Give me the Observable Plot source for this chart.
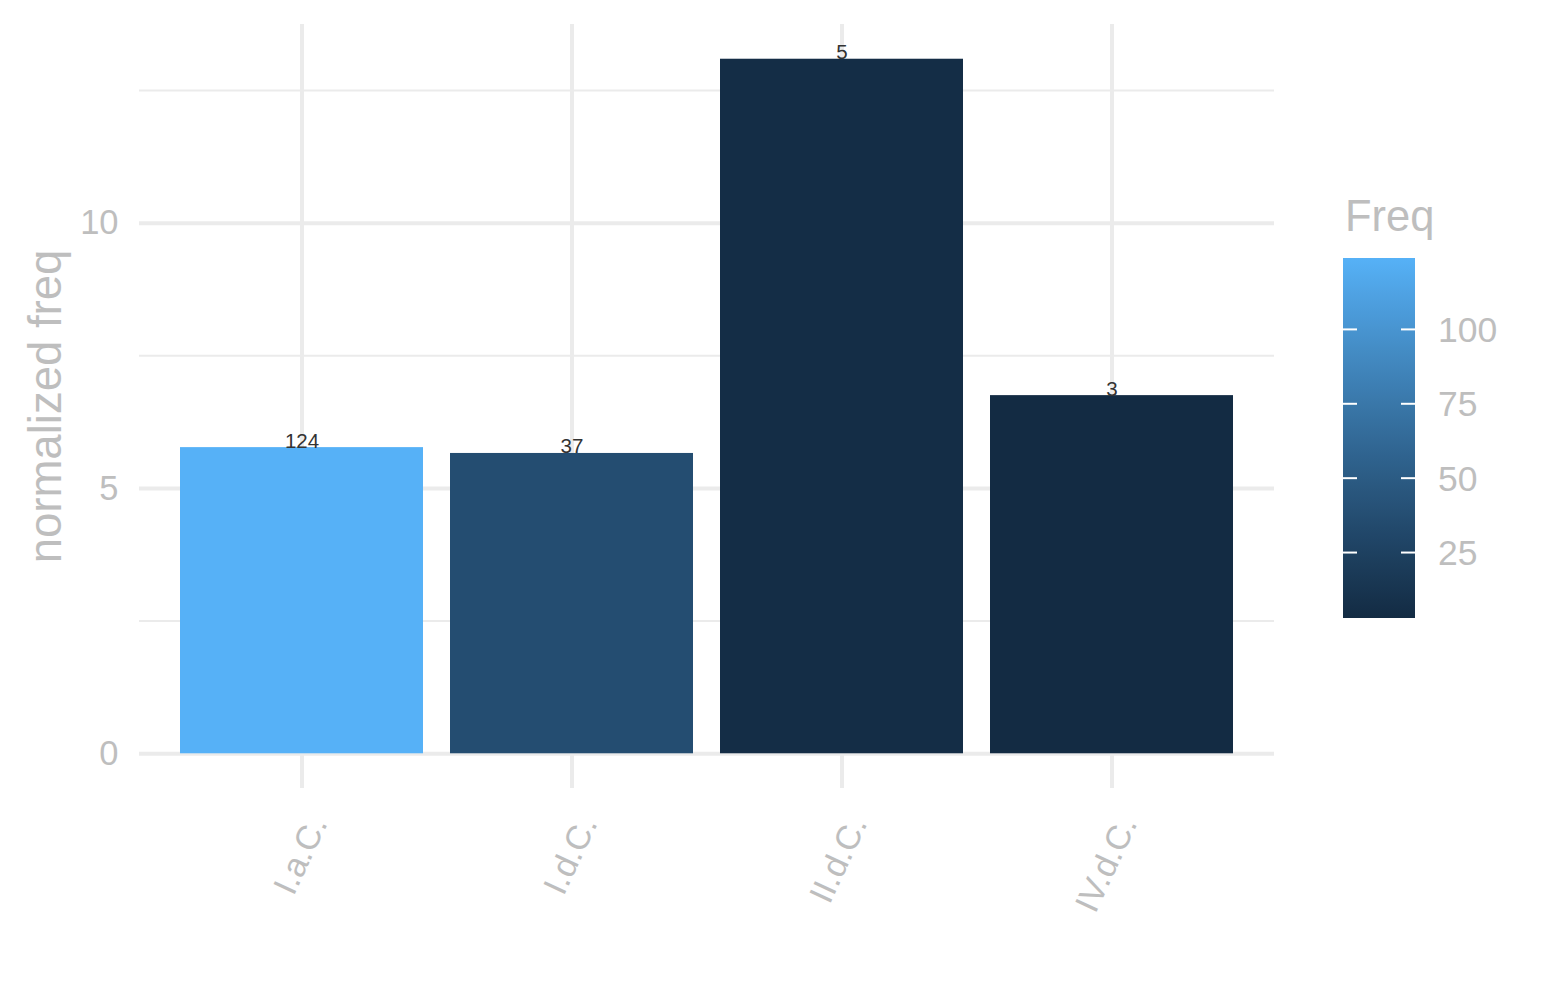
<!DOCTYPE html>
<html><head><meta charset="utf-8">
<script src="https://cdn.jsdelivr.net/npm/d3@7"></script>
<script src="https://cdn.jsdelivr.net/npm/@observablehq/plot@0.6"></script>
<style>
html,body{margin:0;padding:0;background:#fff;}
#wrap{position:relative;width:1545px;height:1000px;}
</style></head><body><div id="wrap"></div>
<script>
const categories = ["I.a.C.", "I.d.C.", "II.d.C.", "IV.d.C."];
const normFreq = [5.77, 5.66, 13.09, 6.75];
const freq = [124, 37, 5, 3];
const yTicksMajor = [0, 5, 10];
const yTicksMinor = [2.5, 7.5, 12.5];
const legendTicks = [25, 50, 75, 100];

const data = categories.map((c, i) => ({cat: c, norm: normFreq[i], freq: freq[i]}));
const maxV = d3.max(normFreq);
const grey = "#bebebe";
const gridCol = "#ebebeb";
const font = "'Liberation Sans', Arial, Helvetica, sans-serif";

const chart = Plot.plot({
  width: 1545, height: 1000,
  marginLeft: 139, marginRight: 271, marginTop: 24, marginBottom: 212,
  style: {fontFamily: font, background: "#fff"},
  x: {type: "band", domain: categories, paddingInner: 0.1, paddingOuter: 0.15, label: null},
  y: {domain: [-0.05 * maxV, 1.05 * maxV], label: null},
  color: {type: "linear", domain: d3.extent(freq), range: ["#132B43", "#56B1F7"], interpolate: "lab"},
  marks: [
    Plot.gridY(yTicksMinor, {stroke: gridCol, strokeOpacity: 1, strokeWidth: 2}),
    Plot.gridY(yTicksMajor, {stroke: gridCol, strokeOpacity: 1, strokeWidth: 4}),
    Plot.gridX(categories, {stroke: gridCol, strokeOpacity: 1, strokeWidth: 4}),
    Plot.barY(data, {x: "cat", y: "norm", fill: "freq"}),
    Plot.text(data, {x: "cat", y: "norm", text: d => String(d.freq), lineAnchor: "bottom", fontSize: 20.5, fill: "#333"}),
    Plot.axisY(yTicksMajor, {tickSize: 0, tickPadding: 21, fontSize: 34.5, color: grey, label: null, tickFormat: d3.format("d")}),
    Plot.axisX({tickSize: 0, tickPadding: 30, tickRotate: -65, fontSize: 34, color: grey, label: null, dx: 16}),
    Plot.text(["normalized freq"], {text: d => d, frameAnchor: "left", textAnchor: "middle", lineAnchor: "middle", rotate: -90, dx: -93, fontSize: 45.5, fill: grey})
  ]
});
document.getElementById("wrap").appendChild(chart);

// Legend (colour bar) built from the plot's own colour scale
const cs = chart.scale("color");
const [d0, d1] = cs.domain;
const svg = d3.select(chart);
const grad = svg.append("defs").append("linearGradient")
  .attr("id", "freqGrad").attr("x1", 0).attr("y1", 1).attr("x2", 0).attr("y2", 0);
d3.range(0, 1.0001, 0.05).forEach(t => {
  grad.append("stop").attr("offset", t).attr("stop-color", cs.apply(d0 + t * (d1 - d0)));
});
const lx = 1343, lw = 72, ly0 = 618, ly1 = 258;
const ly = d3.scaleLinear().domain([d0, d1]).range([ly0, ly1]);
const g = svg.append("g").style("font-family", font).attr("text-anchor", "start");
g.append("rect").attr("x", lx).attr("y", ly1).attr("width", lw).attr("height", ly0 - ly1).attr("fill", "url(#freqGrad)");
legendTicks.forEach(v => {
  const y = ly(v);
  g.append("line").attr("x1", lx).attr("x2", lx + 14).attr("y1", y).attr("y2", y).attr("stroke", "#fff").attr("stroke-width", 2);
  g.append("line").attr("x1", lx + lw - 14).attr("x2", lx + lw).attr("y1", y).attr("y2", y).attr("stroke", "#fff").attr("stroke-width", 2);
  g.append("text").attr("x", 1438).attr("y", y).attr("dy", "0.35em").attr("text-anchor", "start").attr("font-size", 35.5).attr("fill", grey).text(v);
});
g.append("text").attr("x", 1345).attr("y", 231).attr("text-anchor", "start").attr("font-size", 43.5).attr("fill", grey).text("Freq");
</script>
</body></html>
